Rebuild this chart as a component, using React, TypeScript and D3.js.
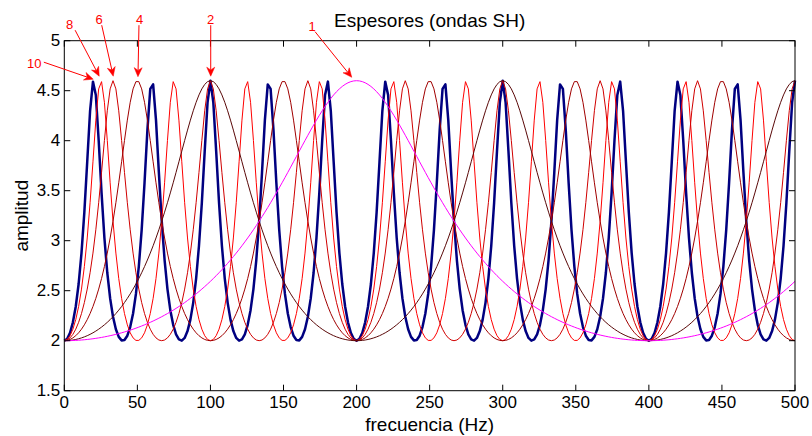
import React from "react";
import * as d3 from "d3";

// ---- data ----
const thicknessLabels = ["1", "2", "4", "6", "8", "10"];
// fundamental resonance frequency of each layer thickness (Hz), read from the first peak
const fundamentalFreqs = [200, 100, 50, 33.333, 25, 20];
const troughAmplitude = 2; // amplitude at the anti-resonances
const peakAmplitude = 4.6; // amplitude at the resonance peaks
const freqStart = 0;
const freqEnd = 500;
const sampleCount = 256; // frequency samples of the original computation
const xTickValues = [0, 50, 100, 150, 200, 250, 300, 350, 400, 450, 500];
const yTickValues = [1.5, 2, 2.5, 3, 3.5, 4, 4.5, 5];
const titleText = "Espesores (ondas SH)";
const xLabelText = "frecuencia (Hz)";
const yLabelText = "amplitud";

// annotation arrows (data coordinates)
const annotationLabels = ["10", "8", "6", "4", "2", "1"];
const annotationText = [
  [-20.5, 4.775],
  [3.6, 5.165],
  [23.8, 5.215],
  [51.6, 5.215],
  [100.2, 5.215],
  [169.6, 5.14],
];
const annotationTail = [
  [-14.0, 4.785],
  [7.4, 5.105],
  [25.6, 5.155],
  [51.1, 5.155],
  [100.2, 5.155],
  [171.6, 5.09],
];
const annotationHead = [
  [19.8, 4.615],
  [23.9, 4.645],
  [33.5, 4.645],
  [50.4, 4.64],
  [100.2, 4.645],
  [196.7, 4.634],
];

// ---- styles ----
const curveColors = ["#ff00ff", "#5a0808", "#a00000", "#d00000", "#ff0000", "#000080"];
const curveWidths = [1, 1, 1, 1, 1, 2.5];
const drawOrder = [5, 4, 3, 2, 1, 0];
const FONT = "'Liberation Sans', Arial, Helvetica, sans-serif";

const W = 812;
const H = 436;
const M = { left: 64.3, right: 795, top: 40.7, bottom: 390.7 };

function amplitude(f: number, f0: number) {
  const r = troughAmplitude / peakAmplitude;
  const th = (Math.PI * f) / (2 * f0);
  const c = Math.cos(th);
  const s = Math.sin(th);
  return troughAmplitude / Math.sqrt(c * c + r * r * s * s);
}

export default function App() {
  const x = d3.scaleLinear().domain([0, 500]).range([M.left, M.right]);
  const y = d3.scaleLinear().domain([1.5, 5]).range([M.bottom, M.top]);
  const freqs = d3
    .range(sampleCount)
    .map((i) => freqStart + (i * (freqEnd - freqStart)) / (sampleCount - 1));
  const line = d3
    .line<[number, number]>()
    .x((d) => x(d[0]))
    .y((d) => y(d[1]));

  const series = fundamentalFreqs.map((f0) =>
    freqs.map((f) => [f, amplitude(f, f0)] as [number, number])
  );

  const tickLen = 6;

  const arrows = annotationLabels.map((lab, i) => {
    const tx = x(annotationTail[i][0]);
    const ty = y(annotationTail[i][1]);
    const hx = x(annotationHead[i][0]);
    const hy = y(annotationHead[i][1]);
    const ang = Math.atan2(hy - ty, hx - tx);
    const L = 9;
    const Wd = 4;
    const ux = Math.cos(ang);
    const uy = Math.sin(ang);
    const bx = hx - ux * L;
    const by = hy - uy * L;
    const nx = -uy;
    const ny = ux;
    const notchx = hx - ux * L * 0.7;
    const notchy = hy - uy * L * 0.7;
    const head = `M${hx},${hy} L${bx + nx * Wd},${by + ny * Wd} L${notchx},${notchy} L${bx - nx * Wd},${by - ny * Wd} Z`;
    return (
      <g key={lab}>
        <line x1={tx} y1={ty} x2={notchx} y2={notchy} stroke="#ff0000" strokeWidth={1} />
        <path d={head} fill="#ff0000" stroke="#ff0000" strokeWidth={0.5} />
        <text
          x={x(annotationText[i][0])}
          y={y(annotationText[i][1])}
          textAnchor="middle"
          dominantBaseline="central"
          fontSize={13}
          fill="#ff0000"
          fontFamily={FONT}
        >
          {lab}
        </text>
      </g>
    );
  });

  return (
    <svg
      width={W}
      height={H}
      style={{ position: "absolute", left: 0, top: 0, background: "#fff" }}
      fontFamily={FONT}
    >
      <rect x={0} y={0} width={W} height={H} fill="#fff" />
      {drawOrder.map((i) => (
        <path
          key={thicknessLabels[i]}
          d={line(series[i]) || ""}
          fill="none"
          stroke={curveColors[i]}
          strokeWidth={curveWidths[i]}
          strokeLinejoin="round"
        />
      ))}
      {/* axes box */}
      <rect
        x={M.left}
        y={M.top}
        width={M.right - M.left}
        height={M.bottom - M.top}
        fill="none"
        stroke="#000"
        strokeWidth={1}
      />
      {xTickValues.map((t) => (
        <g key={"x" + t}>
          <line x1={x(t)} x2={x(t)} y1={M.bottom} y2={M.bottom - tickLen} stroke="#000" />
          <line x1={x(t)} x2={x(t)} y1={M.top} y2={M.top + tickLen} stroke="#000" />
          <text x={x(t)} y={M.bottom + 17} textAnchor="middle" fontSize={17} fill="#000">
            {t}
          </text>
        </g>
      ))}
      {yTickValues.map((t) => (
        <g key={"y" + t}>
          <line x1={M.left} x2={M.left + tickLen} y1={y(t)} y2={y(t)} stroke="#000" />
          <line x1={M.right} x2={M.right - tickLen} y1={y(t)} y2={y(t)} stroke="#000" />
          <text
            x={M.left - 4}
            y={y(t)}
            textAnchor="end"
            dominantBaseline="central"
            fontSize={17}
            fill="#000"
          >
            {t}
          </text>
        </g>
      ))}
      <text x={(M.left + M.right) / 2} y={27} textAnchor="middle" fontSize={19} fill="#000">
        {titleText}
      </text>
      <text x={(M.left + M.right) / 2} y={431} textAnchor="middle" fontSize={19} fill="#000">
        {xLabelText}
      </text>
      <text
        transform={`translate(${28},${(M.top + M.bottom) / 2}) rotate(-90)`}
        textAnchor="middle"
        fontSize={19}
        fill="#000"
      >
        {yLabelText}
      </text>
      {arrows}
    </svg>
  );
}
